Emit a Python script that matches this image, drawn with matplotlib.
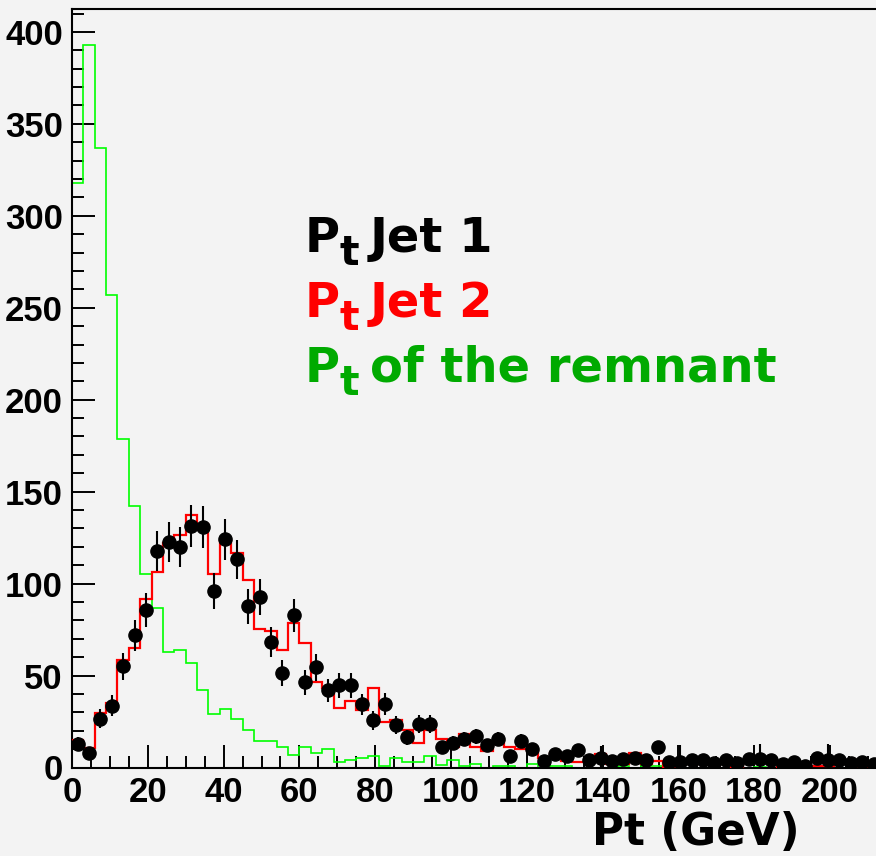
"""
plot.py - Pt spectra of the two jets and of the remnant, ROOT-style histogram.
"""

import numpy as np
import matplotlib
matplotlib.use("Agg")
import matplotlib.pyplot as plt
from matplotlib import font_manager
from matplotlib.ticker import MultipleLocator

BIN = 3.0  # GeV per bin

# Pt Jet 1 (black points), one value per 3 GeV bin starting at 0
jet1 = [12.9, 7.8, 26.5, 33.7, 55.1, 71.8, 85.8, 117.7, 122.6, 119.9,
        131.4, 130.9, 96.0, 124.1, 113.3, 87.6, 92.8, 68.2, 51.5, 82.7,
        46.4, 54.6, 41.9, 44.6, 44.6, 34.3, 25.6, 34.7, 23.2, 16.5,
        23.8, 23.8, 11.1, 13.4, 15.6, 16.9, 12.0, 15.6, 6.5, 14.3,
        10.2, 3.8, 7.4, 6.5, 9.6, 4.2, 5.3, 3.8, 4.5, 5.0,
        4.0, 11.0, 3.2, 3.0, 4.0, 4.0, 2.5, 4.0, 2.5, 4.5,
        4.5, 4.0, 2.0, 3.0, 1.0, 5.0, 4.0, 4.0, 2.5, 3.0, 2.0]
# a few tail bins carry larger (weighted) errors than sqrt(N)
jet1_err_override = {46: 6.5, 53: 9.0, 60: 8.5, 66: 9.0}

# Pt Jet 2 (red histogram)
jet2 = [15.2, 10.7, 29.7, 35.0, 58.2, 64.9, 91.8, 106.3, 122.0, 126.2,
        137.3, 132.6, 105.2, 123.1, 116.7, 102.2, 75.5, 74.2, 63.7, 78.5,
        67.8, 46.4, 43.3, 32.3, 36.1, 31.4, 43.2, 24.7, 25.9, 20.5,
        13.2, 20.5, 15.4, 11.1, 18.3, 11.1, 9.2, 14.3, 11.1, 10.2,
        8.9, 5.3, 7.8, 3.8, 2.9, 2.9, 7.1, 2.0, 2.0, 8.0,
        2.0, 3.8, 0.5, 1.8, 1.8, 1.8, 1.5, 2.9, 0.0, 2.3,
        2.9, 2.9, 0.0, 0.7, 0.0, 0.7, 0.7, 1.8, 3.9, 0.5, 0.5]

# Pt of the remnant (green histogram)
remnant = [317.6, 392.8, 337.1, 257.2, 178.8, 142.3, 105.3, 86.9, 62.7, 63.7,
           56.6, 42.1, 29.0, 31.8, 26.6, 20.6, 14.3, 14.3, 11.1, 6.9,
           11.1, 7.8, 10.2, 2.9, 4.2, 5.3, 6.0, 1.0, 5.0, 3.0,
           3.0, 6.0, 1.5, 4.2, 1.0, 2.0, 0.0, 1.0, 1.0, 0.0,
           2.0, 0.0, 1.0, 1.0, 0.0, 0.0, 0.0, 0.0, 1.0, 0.0,
           1.0, 1.0, 0.0, 0.0, 0.0, 0.0, 0.0, 0.0, 0.0, 0.0,
           0.5, 0.0, 0.0, 0.0, 0.0, 0.0, 0.0, 0.0, 0.0, 0.0, 0.0]

legend_labels = ["Jet 1", "Jet 2", "of the remnant"]
legend_colors = ["black", "red", "#00aa00"]

W, H = 876, 856
BG = "#f3f3f3"

names = {f.name for f in font_manager.fontManager.ttflist}
tick_family = "Liberation Sans Narrow" if "Liberation Sans Narrow" in names else "Liberation Sans"


def px(x, y):
    """pixel position (from top-left) -> figure fraction"""
    return x / W, 1.0 - y / H


fig = plt.figure(figsize=(W / 100, H / 100), dpi=100, facecolor=BG)
ax = fig.add_axes([72 / W, 1 - 767.5 / H, 804 / W, 758.5 / H])
ax.set_facecolor(BG)

n = len(jet1)
edges = np.arange(n + 1) * BIN
centers = 0.5 * (edges[:-1] + edges[1:])

ax.stairs(remnant, edges, baseline=None, color="#00ff00", lw=1.2, zorder=2)
ax.stairs(jet2, edges, baseline=None, color="red", lw=1.6, zorder=3)

j1 = np.array(jet1)
err = np.sqrt(j1)
for k, e in jet1_err_override.items():
    err[k] = e
ax.errorbar(centers, j1, yerr=err, fmt="o", color="black", ms=9.5,
            elinewidth=1.5, capsize=0, zorder=4)

ax.set_xlim(0, 804 / 3.79)
ax.set_ylim(0, 758.5 / 1.839)

ax.xaxis.set_major_locator(MultipleLocator(20))
ax.xaxis.set_minor_locator(MultipleLocator(5))
ax.yaxis.set_major_locator(MultipleLocator(50))
ax.yaxis.set_minor_locator(MultipleLocator(10))
ax.tick_params(which="both", direction="in", width=1.4, color="black")
ax.tick_params(which="major", length=16.5)
ax.tick_params(which="minor", length=8.5)
ax.tick_params(axis="x", pad=6)
ax.tick_params(axis="y", pad=6.5)
for lab in ax.get_xticklabels() + ax.get_yticklabels():
    lab.set_fontfamily(tick_family)
    lab.set_fontweight("bold")
    lab.set_fontsize(25)

for side in ("left", "bottom", "top"):
    ax.spines[side].set_linewidth(1.5)
ax.spines["right"].set_visible(False)

# x title, bottom right
fig.text(*px(800, 845), "Pt (GeV)", ha="right", va="baseline",
         family="DejaVu Sans", weight="bold", fontsize=31.5)

# text legend: P, lowered t, label
for i, (label, color) in enumerate(zip(legend_labels, legend_colors)):
    base = 251.7 + 65 * i
    kw = dict(ha="left", va="baseline", family="DejaVu Sans", weight="bold",
              color=color)
    fig.text(*px(305, base), "P", fontsize=34.6, **kw)
    fig.text(*px(339, base + 13), "t", fontsize=29.5, **kw)
    fig.text(*px(370, base), label, fontsize=34.6, **kw)

fig.savefig("out.png", dpi=100, facecolor=BG)
